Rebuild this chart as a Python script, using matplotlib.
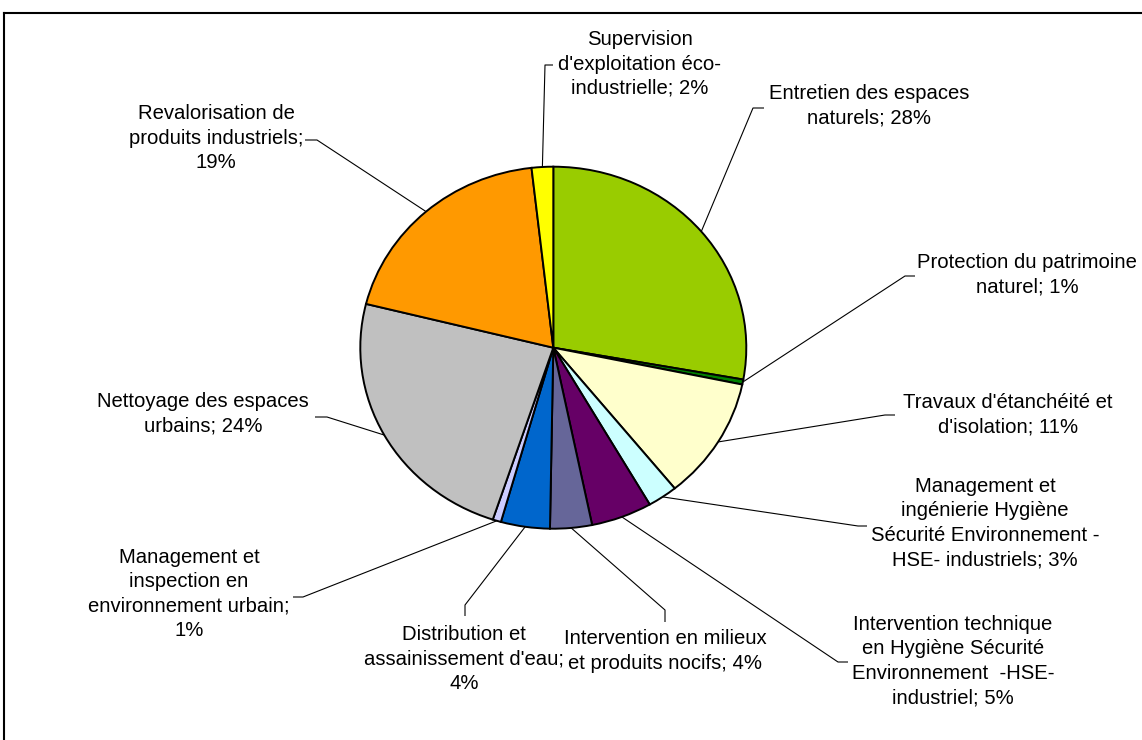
import numpy as np
import matplotlib
matplotlib.use("Agg")
import matplotlib.pyplot as plt

# ---------------- data ----------------
categories = [
    "Entretien des espaces\nnaturels",
    "Protection du patrimoine\nnaturel",
    "Travaux d'étanchéité et\nd'isolation",
    "Management et\ningénierie Hygiène\nSécurité Environnement -\nHSE- industriels",
    "Intervention technique\nen Hygiène Sécurité\nEnvironnement  -HSE-\nindustriel",
    "Intervention en milieux\net produits nocifs",
    "Distribution et\nassainissement d'eau",
    "Management et\ninspection en\nenvironnement urbain",
    "Nettoyage des espaces\nurbains",
    "Revalorisation de\nproduits industriels",
    "Supervision\nd'exploitation éco-\nindustrielle",
]
values = [27.8, 0.45, 10.9, 2.5, 5.1, 3.5, 4.1, 0.7, 23.8, 19.3, 1.8]
pct_labels = ["28%", "1%", "11%", "3%", "5%", "4%", "4%", "1%", "24%", "19%", "2%"]
colors = ["#99CC00", "#008000", "#FFFFCC", "#CCFFFF", "#660066", "#666699",
          "#0066CC", "#CCCCFF", "#C0C0C0", "#FF9900", "#FFFF00"]
# how the percent is joined to the category name
pct_sep = ["; ", "; ", "; ", "; ", "; ", "; ", ";\n", ";\n", "; ", ";\n", "; "]
full_labels = [c + s + p for c, s, p in zip(categories, pct_sep, pct_labels)]

# ---------------- layout (pixel coordinates) ----------------
W, H = 1142, 740
CX, CY = 553.3, 347.7      # pie centre
RX, RY = 193.0, 181.0      # pie radii (slightly elliptical)

# text centres
text_pos = [(869, 106), (1027, 275), (1008, 415), (985, 523), (953, 661),
            (665, 651), (464, 659), (189, 594), (203, 414), (216, 138), (640, 64)]
# leader: elbow point and end point (near the text)
elbow = [(753, 108), (905, 276), (885, 415), (858, 526), (838, 662),
         (665, 610), (465, 605), (303, 597), (327, 417), (317, 140), (545, 65)]
tick_end = [(764, 108), (915, 276), (895, 415), (867, 526), (848, 662),
            (665, 622), (465, 616), (293, 597), (315, 417), (305, 140), (553, 65)]

def to_data(px, py):
    return (px - CX) / RX, (CY - py) / RY

fig = plt.figure(figsize=(W / 100, H / 100), dpi=100)
ax = fig.add_axes([0, 0, 1, 1])

wedges, _ = ax.pie(values, colors=colors, startangle=90, counterclock=False,
                   radius=1.0, center=(0, 0),
                   wedgeprops=dict(edgecolor="black", linewidth=1.4))
ax.set_aspect("auto")
ax.set_xlim(-CX / RX, (W - CX) / RX)
ax.set_ylim((CY - H) / RY, CY / RY)
ax.axis("off")

for i, w in enumerate(wedges):
    mid = np.deg2rad((w.theta1 + w.theta2) / 2)
    ex, ey = np.cos(mid), np.sin(mid)
    bx, by = to_data(*elbow[i])
    tx, ty = to_data(*tick_end[i])
    ax.plot([ex, bx, tx], [ey, by, ty], color="black", linewidth=0.8,
            solid_capstyle="butt", zorder=0.5)
    lx, ly = to_data(*text_pos[i])
    ax.text(lx, ly, full_labels[i], ha="center", va="center",
            fontsize=14.6, family=["Liberation Sans", "DejaVu Sans"],
            linespacing=1.36, color="black")

# outer chart frame (extends beyond the image at right and bottom)
fig.add_artist(plt.Line2D([4 / W, 1.0], [1 - 13 / H, 1 - 13 / H],
                          transform=fig.transFigure, color="black", linewidth=1.5))
fig.add_artist(plt.Line2D([4 / W, 4 / W], [0.0, 1 - 13 / H],
                          transform=fig.transFigure, color="black", linewidth=1.5))

fig.savefig("out.png", dpi=100, facecolor="white")
